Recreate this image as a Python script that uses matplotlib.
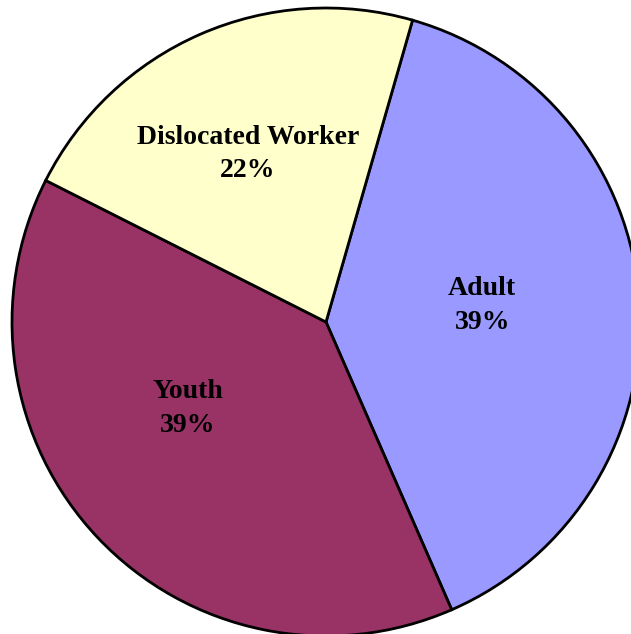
import numpy as np
import matplotlib.pyplot as plt

# program shares
programs = ['Adult', 'Youth', 'Dislocated Worker']
shares = [39, 39, 22]
colors = ['#9999FF', '#993366', '#FFFFCC']

# label placement (angle in degrees, radius as fraction of pie radius)
label_pos = [(6, 0.50), (-148, 0.52), (115, 0.59)]

W, H = 631, 634
fig = plt.figure(figsize=(W / 100, H / 100), dpi=100)
cx, cy, r = 326, 634 - 322, 314
ax = fig.add_axes([(cx - r) / W, (cy - r) / H, 2 * r / W, 2 * r / H])

ax.pie(shares, colors=colors, startangle=74, counterclock=False, radius=1,
       wedgeprops=dict(edgecolor='black', linewidth=2.0))

for name, val, (ang, rad) in zip(programs, shares, label_pos):
    a = np.deg2rad(ang)
    ax.text(rad * np.cos(a), rad * np.sin(a), f'{name}\n{val}%',
            ha='center', va='center', fontsize=20, fontweight='bold',
            family='Liberation Serif', linespacing=1.45)

ax.set_xlim(-1, 1)
ax.set_ylim(-1, 1)
ax.axis('off')
fig.savefig('out.png', dpi=100)
